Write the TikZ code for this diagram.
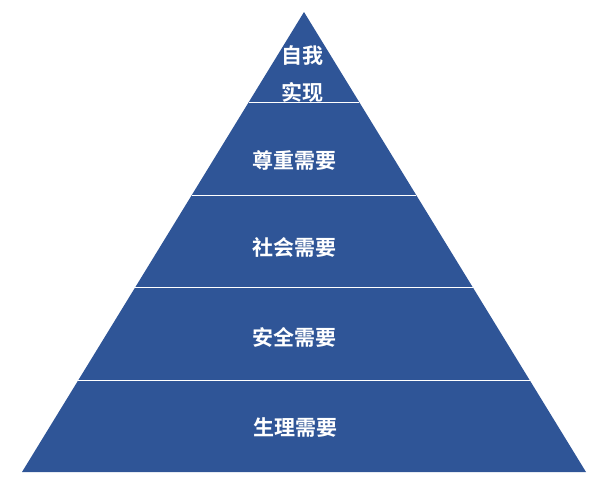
\documentclass[tikz,border=0pt]{standalone}
\usepackage{fontspec}
\newfontfamily\cjk{Noto Sans CJK SC}[BoldFont={Noto Sans CJK SC Bold}]
\usepackage{xcolor}
\definecolor{pyrblue}{HTML}{2F5597}
\usetikzlibrary{positioning}
\tikzset{layer label/.style={text=white, font=\cjk\bfseries\fontsize{21}{37}\selectfont, align=center, inner sep=0pt}}

\begin{document}
\begin{tikzpicture}[x=1pt,y=-1pt]
	\useasboundingbox (0,0) rectangle (609,490);
	\coordinate (apex) at (304,12);
	\coordinate (bl) at (22,472);
	\coordinate (br) at (586,472);
	\fill[pyrblue] (apex) -- (br) -- (bl) -- cycle;
	% layer borders
	\foreach \y in {102,195,287,380}
		\draw[white, line width=1pt] ({304-0.613*(\y-12)},\y) -- ({304+0.613*(\y-12)},\y);
	\node[layer label] (self) at (302,74) {自我\\实现};
	\node[layer label] (esteem) at (294,160) {尊重需要};
	\node[layer label] (social) at (294,247) {社会需要};
	\node[layer label] (safety) at (294,337) {安全需要};
	\node[layer label] (body) at (295,428) {生理需要};
\end{tikzpicture}
\end{document}
